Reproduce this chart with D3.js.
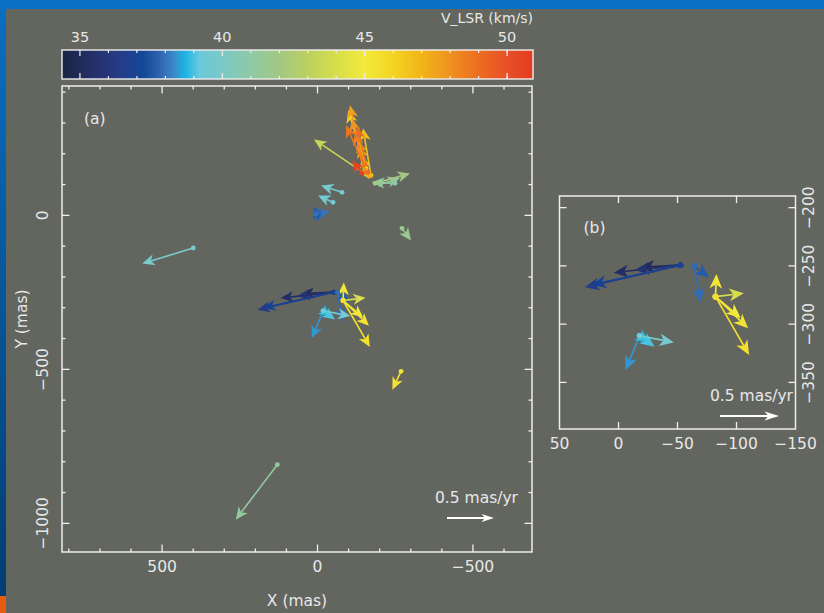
<!DOCTYPE html>
<html>
<head>
<meta charset="utf-8">
<script src="https://cdn.jsdelivr.net/npm/d3@7"></script>
<style>
  html, body { margin: 0; padding: 0; background: #63655f; }
  svg { display: block; }
  text { font-family: "DejaVu Sans", sans-serif; fill: #e8e8e8; }
</style>
</head>
<body>
<svg id="chart" width="824" height="613"></svg>
<script>
// Maser spot positions (mas), proper motions (mas/yr) and line-of-sight velocities (km/s)
const spotX    = [-52.5, -52.5, -52.5, -52.5, -52.5, -64, -64, -82.2, -82.2, -82.2, -82.2, -82.2,
                  -17.9, -17.9, -17.9, -17.9,
                  -149.6, -152.8, -156, -159.3, -159.3, -143.2, -162.5, -156, -156,
                  -165.7, -172, -149.6,
                  -185, -201, -249.4, -78.8, -49.9, -1.6, 4.8, -4.8, -271.9, 399.6, 129.3, -268.7];
const spotY    = [-249.4, -249.4, -249.4, -249.4, -249.4, -250, -250, -276.4, -276.4, -276.4, -276.4, -276.4,
                  -310, -310, -310, -310,
                  139.6, 146.1, 139.6, 136.4, 133.1, 136.4, 139.6, 152.6, 133.1,
                  126.6, 130, 162.3,
                  103.9, 100.6, 103.9, 74.7, 42.2, -3.2, 3.2, 9.7, -42.2, -106, -809.4, -506.5];
const spotVx   = [0.811, 0.752, 0.565, 0.387, 0.345, -0.127, -0.057, -0.008, -0.240, -0.276, -0.285, -0.214,
                  -0.291, -0.127, 0.119, -0.085,
                  0.149, 0.138, 0.117, 0.085, 0.053, 0.106, 0.117, 0.19, 0.553,
                  0.117, 0.085, 0.191,
                  -0.372, -0.213, 0.245, 0.223, 0.16, 0.043, -0.149, 0.02, -0.096, 0.543, 0.443, 0.093];
const spotVy   = [-0.186, -0.167, -0.063, -0.040, -0.017, -0.099, -0.311, 0.192, 0.029, -0.268, -0.494, -0.181,
                  -0.056, -0.093, -0.291, -0.064,
                  0.713, 0.553, 0.426, 0.298, 0.202, 0.138, 0.49, 0.617, 0.372,
                  0.383, 0.5, 0.426,
                  0.106, 0.064, 0.011, 0.074, 0.074, 0.106, 0.032, -0.106, -0.128, -0.166, -0.585, -0.195];
const spotVlsr = [36.4, 36.9, 35.3, 35.7, 34.9, 37.6, 37.9, 45.2, 44.0, 45.3, 45.5, 45.0,
                  39.7, 39.0, 38.4, 38.8,
                  47.6, 47.9, 48.4, 46.9, 46.4, 50.6, 49.0, 46.2, 43.4,
                  47.3, 46.6, 48.8,
                  42.0, 41.4, 40.7, 39.7, 39.4, 37.6, 38.0, 37.8, 41.6, 39.9, 41.2, 45.4];

// Colour table for V_LSR
const cbStops  = [34.4, 35.5, 36.5, 37.2, 37.8, 38.3, 38.7, 39.2, 40, 41, 42, 43, 44, 45, 46, 47, 48, 49, 50, 50.9];
const cbColors = ["#1b2545", "#24306a", "#253c8c", "#0f469a", "#2f64b0", "#3a8ccc", "#1ab8e8", "#6ccce0",
                  "#7ccbc8", "#8ecaa6", "#a4c884", "#bcd060", "#d6de4c", "#f4ea3c", "#f4d422", "#f2b41a",
                  "#ef9220", "#ec6e20", "#e8502a", "#e43c20"];
const cbTicks  = [35, 40, 45, 50];
const cbMinor  = [36, 37, 38, 39, 41, 42, 43, 44, 46, 47, 48, 49, 50];

const aXTicks = [500, 0, -500];
const aYTicks = [0, -500, -1000];
const bXTicks = [50, 0, -50, -100, -150];
const bYTicks = [-200, -250, -300, -350];
const refMotion = 0.5;

const svg = d3.select("#chart");
const ink = "#eeeeee";
const color = d3.scaleLinear().domain(cbStops).range(cbColors).interpolate(d3.interpolateRgb).clamp(true);

// page frame
const frameGrad = svg.append("defs").append("linearGradient")
  .attr("id", "frameGrad").attr("x1", 0).attr("y1", 0).attr("x2", 0).attr("y2", 1);
frameGrad.append("stop").attr("offset", "0%").attr("stop-color", "#0a6fc2");
frameGrad.append("stop").attr("offset", "100%").attr("stop-color", "#023d70");
svg.append("rect").attr("x", 0).attr("y", 0).attr("width", 824).attr("height", 613).attr("fill", "#63655f");
svg.append("rect").attr("x", 0).attr("y", 0).attr("width", 6).attr("height", 596).attr("fill", "url(#frameGrad)");
svg.append("rect").attr("x", 0).attr("y", 596).attr("width", 6).attr("height", 17).attr("fill", "#e85a10");
svg.append("rect").attr("x", 0).attr("y", 0).attr("width", 824).attr("height", 9).attr("fill", "#0a70c4");

// colour bar
const cb = { x0: 62, x1: 533, y0: 50, y1: 79 };
const cbScale = d3.scaleLinear().domain([34.37, 50.91]).range([cb.x0, cb.x1]);
const cbG = svg.append("g");
const nSlices = 470;
const sliceW = (cb.x1 - cb.x0) / nSlices;
cbG.selectAll("rect.slice").data(d3.range(nSlices)).join("rect")
  .attr("class", "slice")
  .attr("x", i => cb.x0 + i * sliceW)
  .attr("y", cb.y0)
  .attr("width", sliceW + 0.6)
  .attr("height", cb.y1 - cb.y0)
  .attr("fill", i => color(cbScale.invert(cb.x0 + (i + 0.5) * sliceW)));
cbG.append("rect").attr("x", cb.x0).attr("y", cb.y0).attr("width", cb.x1 - cb.x0).attr("height", cb.y1 - cb.y0)
  .attr("fill", "none").attr("stroke", ink).attr("stroke-width", 1.4);
function cbTick(v, len) {
  const x = cbScale(v);
  cbG.append("line").attr("x1", x).attr("x2", x).attr("y1", cb.y0).attr("y2", cb.y0 + len)
    .attr("stroke", ink).attr("stroke-width", 1.2);
  cbG.append("line").attr("x1", x).attr("x2", x).attr("y1", cb.y1).attr("y2", cb.y1 - len)
    .attr("stroke", ink).attr("stroke-width", 1.2);
}
cbMinor.forEach(v => cbTick(v, 3));
cbTicks.forEach(v => cbTick(v, 6));
cbG.selectAll("text.cbl").data(cbTicks).join("text")
  .attr("class", "cbl")
  .attr("x", d => cbScale(d)).attr("y", 42)
  .attr("text-anchor", "middle").attr("font-size", 14.5)
  .text(d => d);
cbG.append("text").attr("x", cb.x1).attr("y", 23).attr("text-anchor", "end").attr("font-size", 14)
  .text("V_LSR (km/s)");

// arrow head path pointing to (0,0) along +x
function headPath(L, W, N) {
  return `M0,0 L${-L},${-W} L${-L + N},0 L${-L},${W} Z`;
}

function drawPanel(p) {
  const g = svg.append("g");
  const x = d3.scaleLinear().domain(p.xDomain).range([p.left, p.right]);
  const y = d3.scaleLinear().domain(p.yDomain).range([p.top, p.bottom]);
  const clipId = "clip" + p.name;
  svg.select("defs").append("clipPath").attr("id", clipId)
    .append("rect").attr("x", p.left).attr("y", p.top).attr("width", p.right - p.left).attr("height", p.bottom - p.top);

  // axis box with inward ticks on all sides
  g.append("rect").attr("x", p.left).attr("y", p.top).attr("width", p.right - p.left).attr("height", p.bottom - p.top)
    .attr("fill", "none").attr("stroke", ink).attr("stroke-width", 1.5);
  const tickLines = [];
  p.xMinor.forEach(v => tickLines.push({ v, len: p.minorLen, axis: "x" }));
  p.xMajor.forEach(v => tickLines.push({ v, len: p.majorLen, axis: "x" }));
  p.yMinor.forEach(v => tickLines.push({ v, len: p.minorLen, axis: "y" }));
  p.yMajor.forEach(v => tickLines.push({ v, len: p.majorLen, axis: "y" }));
  tickLines.forEach(t => {
    if (t.axis === "x") {
      const xx = x(t.v);
      if (xx <= p.left + 1 || xx >= p.right - 1) return;
      g.append("line").attr("x1", xx).attr("x2", xx).attr("y1", p.bottom).attr("y2", p.bottom - t.len)
        .attr("stroke", ink).attr("stroke-width", 1.3);
      g.append("line").attr("x1", xx).attr("x2", xx).attr("y1", p.top).attr("y2", p.top + t.len)
        .attr("stroke", ink).attr("stroke-width", 1.3);
    } else {
      const yy = y(t.v);
      if (yy <= p.top + 1 || yy >= p.bottom - 1) return;
      g.append("line").attr("y1", yy).attr("y2", yy).attr("x1", p.left).attr("x2", p.left + t.len)
        .attr("stroke", ink).attr("stroke-width", 1.3);
      g.append("line").attr("y1", yy).attr("y2", yy).attr("x1", p.right).attr("x2", p.right - t.len)
        .attr("stroke", ink).attr("stroke-width", 1.3);
    }
  });

  // tick labels
  g.selectAll("text.xl").data(p.xLabels).join("text")
    .attr("class", "xl")
    .attr("x", d => x(d)).attr("y", p.bottom + 20)
    .attr("text-anchor", "middle").attr("font-size", 15.5)
    .text(d => d < 0 ? "\u2212" + Math.abs(d) : d);
  g.selectAll("text.yl").data(p.yLabels).join("text")
    .attr("class", "yl")
    .attr("transform", d => `translate(${p.yLabelX},${y(d)}) rotate(-90)`)
    .attr("text-anchor", "middle").attr("dy", "0.35em").attr("font-size", 15.5)
    .text(d => d < 0 ? "\u2212" + Math.abs(d) : d);

  g.append("text").attr("x", p.left + p.tagDx).attr("y", p.top + p.tagDy).attr("font-size", 15.5).text(p.tag);

  // proper-motion vectors
  const sx = Math.sign(x(1) - x(0));
  const sy = Math.sign(y(1) - y(0));
  const idx = d3.range(spotX.length).filter(i =>
    spotX[i] <= Math.max(...p.xDomain) && spotX[i] >= Math.min(...p.xDomain) &&
    spotY[i] <= Math.max(...p.yDomain) && spotY[i] >= Math.min(...p.yDomain));
  const vg = g.append("g").attr("clip-path", `url(#${clipId})`);
  // stacked from low to high velocity
  idx.sort((a, b) => spotVlsr[a] - spotVlsr[b]);
  idx.forEach(i => {
    const x0 = x(spotX[i]), y0 = y(spotY[i]);
    const dx = sx * spotVx[i] * p.k, dy = sy * spotVy[i] * p.k;
    const len = Math.hypot(dx, dy);
    const ang = Math.atan2(dy, dx) * 180 / Math.PI;
    const c = color(spotVlsr[i]);
    const shaft = Math.max(0, len - p.headL + p.headN);
    const ag = vg.append("g").attr("transform", `translate(${x0},${y0}) rotate(${ang})`);
    ag.append("line").attr("x1", 0).attr("y1", 0).attr("x2", shaft).attr("y2", 0)
      .attr("stroke", c).attr("stroke-width", p.lw);
    ag.append("path").attr("transform", `translate(${len},0)`)
      .attr("d", headPath(p.headL, p.headW, p.headN)).attr("fill", c);
  });
  idx.forEach(i => {
    vg.append("circle").attr("cx", x(spotX[i])).attr("cy", y(spotY[i])).attr("r", p.dotR)
      .attr("fill", color(spotVlsr[i]));
  });

  // scale vector
  const rx0 = p.refX, rx1 = p.refX + refMotion * p.k;
  g.append("line").attr("x1", rx0).attr("x2", rx1 - p.headL + p.headN).attr("y1", p.refY).attr("y2", p.refY)
    .attr("stroke", "#ffffff").attr("stroke-width", 1.8);
  g.append("path").attr("transform", `translate(${rx1},${p.refY})`)
    .attr("d", headPath(p.headL, p.headW * 0.7, p.headN)).attr("fill", "#ffffff");
  g.append("text").attr("x", p.refTextX).attr("y", p.refY - 15).attr("text-anchor", "end")
    .attr("font-size", 15.5).text(refMotion + " mas/yr");
  return { x, y };
}

// panel (a): full field
drawPanel({
  name: "a", tag: "(a)", tagDx: 22, tagDy: 38,
  left: 62, right: 532, top: 86, bottom: 552,
  xDomain: [822, -690], yDomain: [420, -1093],
  xMajor: [500, 0, -500], xMinor: [800, 700, 600, 400, 300, 200, 100, -100, -200, -300, -400, -600],
  yMajor: [0, -500, -1000], yMinor: [400, 300, 200, 100, -100, -200, -300, -400, -600, -700, -800, -900],
  majorLen: 7.5, minorLen: 3.5,
  xLabels: aXTicks, yLabels: aYTicks, yLabelX: 43,
  k: 94, lw: 1.6, headL: 12.5, headW: 5.6, headN: 3.5, dotR: 2.4,
  refX: 447, refY: 518, refTextX: 518
});

// panel (b): close-up of the south-eastern group
drawPanel({
  name: "b", tag: "(b)", tagDx: 24, tagDy: 37,
  left: 559.5, right: 795.5, top: 196, bottom: 429,
  xDomain: [50, -150], yDomain: [-190, -390],
  xMajor: [0, -50, -100], xMinor: [],
  yMajor: [-200, -250, -300, -350], yMinor: [],
  majorLen: 7, minorLen: 4,
  xLabels: bXTicks, yLabels: bYTicks, yLabelX: 809,
  k: 118, lw: 1.7, headL: 14.5, headW: 6.4, headN: 4, dotR: 2.8,
  refX: 720, refY: 416, refTextX: 793
});

// axis titles for panel (a)
svg.append("text").attr("x", 297).attr("y", 606).attr("text-anchor", "middle").attr("font-size", 15.5).text("X (mas)");
svg.append("text").attr("transform", "translate(22,319) rotate(-90)").attr("text-anchor", "middle")
  .attr("dy", "0.35em").attr("font-size", 15.5).text("Y (mas)");
</script>
</body>
</html>
